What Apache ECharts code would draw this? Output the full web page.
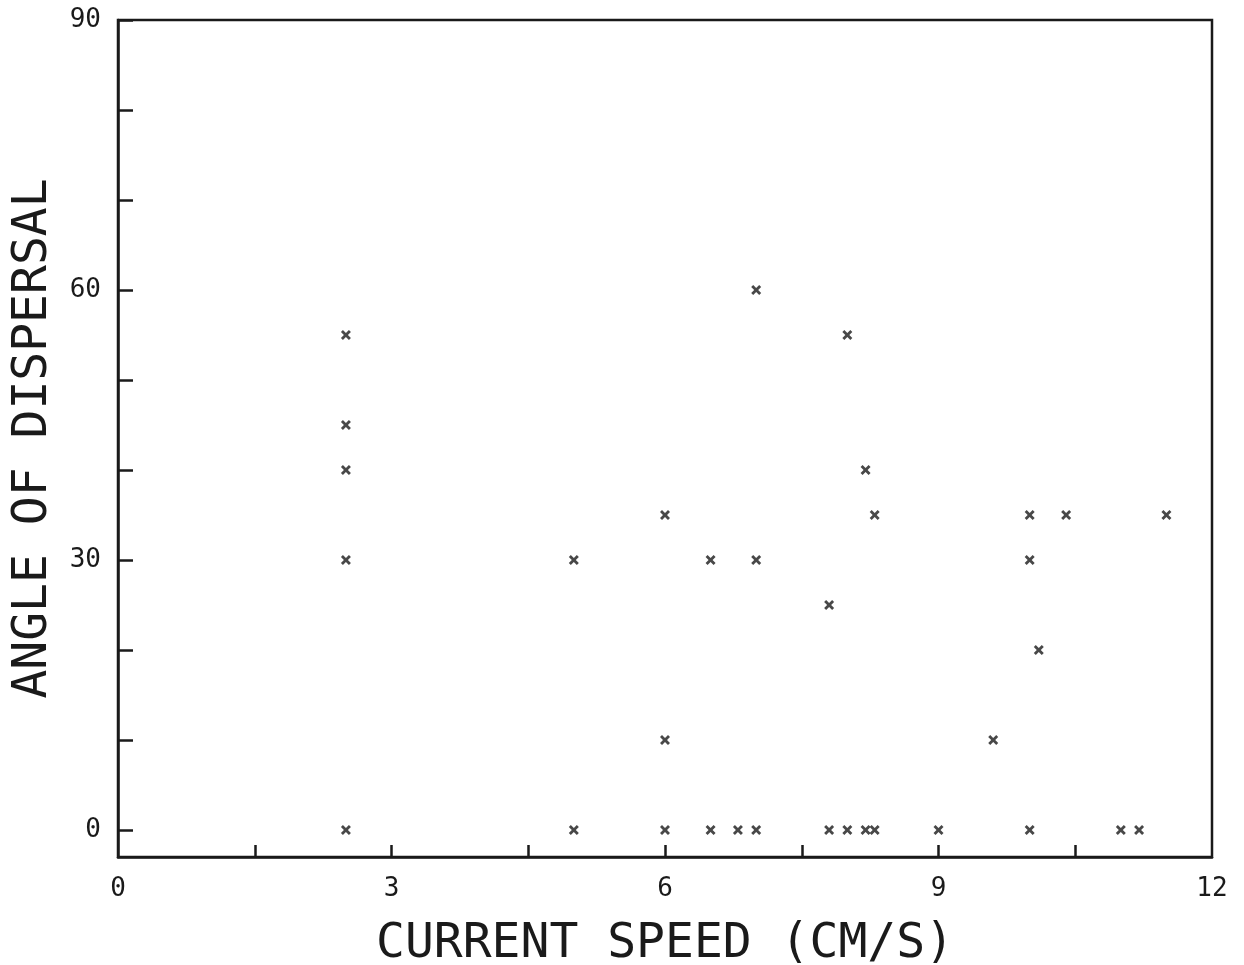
<!DOCTYPE html>
<html>
<head>
<meta charset="utf-8">
<script src="https://cdn.jsdelivr.net/npm/echarts@6/dist/echarts.min.js"></script>
<style>
  html, body { margin: 0; padding: 0; background: #fff; }
  #chart { width: 1244px; height: 965px; }
</style>
</head>
<body>
<div id="chart"></div>
<script>
// Current speed (cm/s) against angle of dispersal (degrees)
const currentSpeed = [
  2.5, 2.5, 2.5, 2.5, 2.5,
  5.0, 5.0,
  6.0, 6.0, 6.0,
  6.5, 6.5, 6.8,
  7.0, 7.0, 7.0,
  7.8, 7.8, 8.0, 8.0, 8.2, 8.2, 8.3, 8.3,
  9.0, 9.6,
  10.0, 10.0, 10.0, 10.1, 10.4,
  11.0, 11.2, 11.5
];
const dispersalAngle = [
  55, 45, 40, 30, 0,
  30, 0,
  35, 10, 0,
  30, 0, 0,
  60, 30, 0,
  25, 0, 55, 0, 40, 0, 35, 0,
  0, 10,
  35, 30, 0, 20, 35,
  0, 0, 35
];
const xTickValues = [1.5, 3, 4.5, 6, 7.5, 9, 10.5];
const xLabelValues = [0, 3, 6, 9, 12];
const yTickValues = [0, 10, 20, 30, 40, 50, 60, 70, 80, 90];
const yLabelValues = [0, 30, 60, 90];

const ink = '#1a1a1a';
const mono = '"DejaVu Sans Mono", "Liberation Mono", monospace';
const crossSymbol = 'path://M0,2 L2,0 L5,3 L8,0 L10,2 L7,5 L10,8 L8,10 L5,7 L2,10 L0,8 L3,5 Z';

const points = currentSpeed.map((x, i) => [x, dispersalAngle[i]]);

const chart = echarts.init(document.getElementById('chart'), null, { renderer: 'canvas' });
chart.setOption({
  backgroundColor: '#fff',
  animation: false,
  grid: {
    left: 118, right: 32, top: 20, bottom: 108,
    outerBoundsMode: 'none', containLabel: false,
    show: true, borderColor: ink, borderWidth: 2.5, backgroundColor: 'transparent'
  },
  xAxis: {
    type: 'value', min: 0, max: 12,
    name: 'CURRENT SPEED (CM/S)', nameLocation: 'middle', nameGap: 64,
    nameTextStyle: { fontFamily: mono, fontSize: 48, color: ink },
    axisLine: { show: true, onZero: false, lineStyle: { color: ink, width: 2.5 } },
    axisTick: { show: true, inside: true, length: 12, customValues: xTickValues, lineStyle: { color: ink, width: 2.5 } },
    axisLabel: { customValues: xLabelValues, fontFamily: mono, fontSize: 26, color: ink, margin: 19 },
    splitLine: { show: false }
  },
  yAxis: {
    type: 'value', min: -3, max: 90,
    name: 'ANGLE OF DISPERSAL', nameLocation: 'middle', nameGap: 60,
    nameTextStyle: { fontFamily: mono, fontSize: 48, color: ink },
    axisLine: { show: true, onZero: false, lineStyle: { color: ink, width: 2.5 } },
    axisTick: { show: true, inside: true, length: 15, customValues: yTickValues, lineStyle: { color: ink, width: 2.5 } },
    axisLabel: { customValues: yLabelValues, fontFamily: mono, fontSize: 26, color: ink, margin: 17 },
    splitLine: { show: false }
  },
  series: [{
    type: 'scatter',
    data: points,
    symbol: crossSymbol,
    symbolSize: 10,
    itemStyle: { color: ink },
    silent: true
  }]
});
</script>
</body>
</html>
